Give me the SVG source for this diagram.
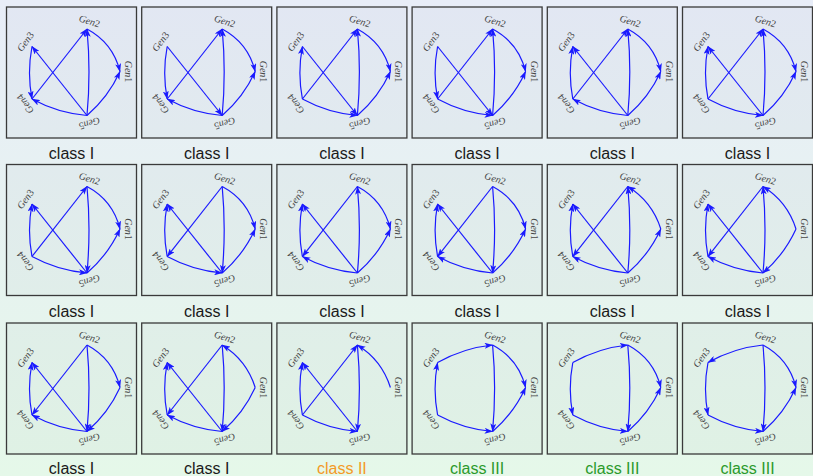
<svg xmlns="http://www.w3.org/2000/svg" width="813" height="476" viewBox="0 0 813 476">
<defs>
<linearGradient id="bg" x1="0" y1="0" x2="0" y2="1">
<stop offset="0" stop-color="#e8edf8"/>
<stop offset="1" stop-color="#e5f8e9"/>
</linearGradient>
<marker id="ah" viewBox="0 0 8.5 6" refX="8" refY="3" markerWidth="8.5" markerHeight="6" markerUnits="userSpaceOnUse" orient="auto">
<path d="M0,0 L8.5,3 L0,6 L2,3 z" fill="#1a1aff"/>
</marker>
</defs>
<style>
.frame{fill:#000030;fill-opacity:0.025;stroke:#3a3a3a;stroke-width:1.3}
.e{fill:none;stroke:#1a1aff;stroke-width:1.2;marker-end:url(#ah)}
.lbl{font-family:"Liberation Serif",serif;font-style:italic;font-size:10px;fill:#454545;text-anchor:middle}
.num{font-style:normal}
.cls{font-family:"Liberation Sans",Arial,sans-serif;font-size:16px;text-anchor:middle;fill:#1a1a1a}
.c2{fill:#f39a26}
.c3{fill:#2b9a2b}
</style>
<rect width="813" height="476" fill="url(#bg)"/>

<g id="panel1" transform="translate(6.5,7)">
<rect class="frame" width="130" height="131"/>
<g id="p1-edges">
<path class="e" d="M80.5,22 Q106.5,35.9 113.5,64.5"/>
<path class="e" d="M80.5,108.5 Q101.8,90.1 113.5,64.5"/>
<path class="e" d="M80.5,108.5 Q84.5,65.25 80.5,22"/>
<path class="e" d="M25.5,92 L80.5,22"/>
<path class="e" d="M80.5,108.5 L25.5,39.5"/>
<path class="e" d="M25.5,39.5 Q20.5,65.75 25.5,92"/>
<path class="e" d="M80.5,108.5 Q51.3,106 25.5,92"/>
</g>
<g id="p1-gen1"><text class="lbl" transform="translate(118.5,64.5) rotate(90)">Gen<tspan class="num">1</tspan></text></g>
<g id="p1-gen2"><text class="lbl" transform="translate(82,17.3) rotate(18)">Gen<tspan class="num">2</tspan></text></g>
<g id="p1-gen3"><text class="lbl" transform="translate(21.5,36.6) rotate(-54)">Gen<tspan class="num">3</tspan></text></g>
<g id="p1-gen4"><text class="lbl" transform="translate(21.5,94.9) rotate(-126)">Gen<tspan class="num">4</tspan></text></g>
<g id="p1-gen5"><text class="lbl" transform="translate(82,113.3) rotate(162)">Gen<tspan class="num">5</tspan></text></g>
<text class="cls" x="65" y="152">class I</text>
</g>

<g id="panel2" transform="translate(141.7,7)">
<rect class="frame" width="130" height="131"/>
<g id="p2-edges">
<path class="e" d="M80.5,22 Q106.5,35.9 113.5,64.5"/>
<path class="e" d="M80.5,108.5 Q101.8,90.1 113.5,64.5"/>
<path class="e" d="M80.5,108.5 Q84.5,65.25 80.5,22"/>
<path class="e" d="M25.5,92 L80.5,22"/>
<path class="e" d="M25.5,39.5 L80.5,108.5"/>
<path class="e" d="M25.5,39.5 Q20.5,65.75 25.5,92"/>
<path class="e" d="M80.5,108.5 Q51.3,106 25.5,92"/>
</g>
<g id="p2-gen1"><text class="lbl" transform="translate(118.5,64.5) rotate(90)">Gen<tspan class="num">1</tspan></text></g>
<g id="p2-gen2"><text class="lbl" transform="translate(82,17.3) rotate(18)">Gen<tspan class="num">2</tspan></text></g>
<g id="p2-gen3"><text class="lbl" transform="translate(21.5,36.6) rotate(-54)">Gen<tspan class="num">3</tspan></text></g>
<g id="p2-gen4"><text class="lbl" transform="translate(21.5,94.9) rotate(-126)">Gen<tspan class="num">4</tspan></text></g>
<g id="p2-gen5"><text class="lbl" transform="translate(82,113.3) rotate(162)">Gen<tspan class="num">5</tspan></text></g>
<text class="cls" x="65" y="152">class I</text>
</g>

<g id="panel3" transform="translate(276.9,7)">
<rect class="frame" width="130" height="131"/>
<g id="p3-edges">
<path class="e" d="M80.5,22 Q106.5,35.9 113.5,64.5"/>
<path class="e" d="M80.5,108.5 Q101.8,90.1 113.5,64.5"/>
<path class="e" d="M80.5,108.5 Q84.5,65.25 80.5,22"/>
<path class="e" d="M25.5,92 L80.5,22"/>
<path class="e" d="M25.5,39.5 L80.5,108.5"/>
<path class="e" d="M25.5,92 Q20.5,65.75 25.5,39.5"/>
<path class="e" d="M25.5,92 Q51.3,106 80.5,108.5"/>
</g>
<g id="p3-gen1"><text class="lbl" transform="translate(118.5,64.5) rotate(90)">Gen<tspan class="num">1</tspan></text></g>
<g id="p3-gen2"><text class="lbl" transform="translate(82,17.3) rotate(18)">Gen<tspan class="num">2</tspan></text></g>
<g id="p3-gen3"><text class="lbl" transform="translate(21.5,36.6) rotate(-54)">Gen<tspan class="num">3</tspan></text></g>
<g id="p3-gen4"><text class="lbl" transform="translate(21.5,94.9) rotate(-126)">Gen<tspan class="num">4</tspan></text></g>
<g id="p3-gen5"><text class="lbl" transform="translate(82,113.3) rotate(162)">Gen<tspan class="num">5</tspan></text></g>
<text class="cls" x="65" y="152">class I</text>
</g>

<g id="panel4" transform="translate(412.1,7)">
<rect class="frame" width="130" height="131"/>
<g id="p4-edges">
<path class="e" d="M80.5,22 Q106.5,35.9 113.5,64.5"/>
<path class="e" d="M80.5,108.5 Q101.8,90.1 113.5,64.5"/>
<path class="e" d="M80.5,108.5 Q84.5,65.25 80.5,22"/>
<path class="e" d="M25.5,92 L80.5,22"/>
<path class="e" d="M25.5,39.5 L80.5,108.5"/>
<path class="e" d="M25.5,39.5 Q20.5,65.75 25.5,92"/>
<path class="e" d="M25.5,92 Q51.3,106 80.5,108.5"/>
</g>
<g id="p4-gen1"><text class="lbl" transform="translate(118.5,64.5) rotate(90)">Gen<tspan class="num">1</tspan></text></g>
<g id="p4-gen2"><text class="lbl" transform="translate(82,17.3) rotate(18)">Gen<tspan class="num">2</tspan></text></g>
<g id="p4-gen3"><text class="lbl" transform="translate(21.5,36.6) rotate(-54)">Gen<tspan class="num">3</tspan></text></g>
<g id="p4-gen4"><text class="lbl" transform="translate(21.5,94.9) rotate(-126)">Gen<tspan class="num">4</tspan></text></g>
<g id="p4-gen5"><text class="lbl" transform="translate(82,113.3) rotate(162)">Gen<tspan class="num">5</tspan></text></g>
<text class="cls" x="65" y="152">class I</text>
</g>

<g id="panel5" transform="translate(547.3,7)">
<rect class="frame" width="130" height="131"/>
<g id="p5-edges">
<path class="e" d="M80.5,22 Q106.5,35.9 113.5,64.5"/>
<path class="e" d="M80.5,108.5 Q101.8,90.1 113.5,64.5"/>
<path class="e" d="M80.5,108.5 Q84.5,65.25 80.5,22"/>
<path class="e" d="M25.5,92 L80.5,22"/>
<path class="e" d="M80.5,108.5 L25.5,39.5"/>
<path class="e" d="M25.5,92 Q20.5,65.75 25.5,39.5"/>
<path class="e" d="M80.5,108.5 Q51.3,106 25.5,92"/>
</g>
<g id="p5-gen1"><text class="lbl" transform="translate(118.5,64.5) rotate(90)">Gen<tspan class="num">1</tspan></text></g>
<g id="p5-gen2"><text class="lbl" transform="translate(82,17.3) rotate(18)">Gen<tspan class="num">2</tspan></text></g>
<g id="p5-gen3"><text class="lbl" transform="translate(21.5,36.6) rotate(-54)">Gen<tspan class="num">3</tspan></text></g>
<g id="p5-gen4"><text class="lbl" transform="translate(21.5,94.9) rotate(-126)">Gen<tspan class="num">4</tspan></text></g>
<g id="p5-gen5"><text class="lbl" transform="translate(82,113.3) rotate(162)">Gen<tspan class="num">5</tspan></text></g>
<text class="cls" x="65" y="152">class I</text>
</g>

<g id="panel6" transform="translate(682.5,7)">
<rect class="frame" width="130" height="131"/>
<g id="p6-edges">
<path class="e" d="M80.5,22 Q106.5,35.9 113.5,64.5"/>
<path class="e" d="M80.5,108.5 Q101.8,90.1 113.5,64.5"/>
<path class="e" d="M80.5,108.5 Q84.5,65.25 80.5,22"/>
<path class="e" d="M25.5,92 L80.5,22"/>
<path class="e" d="M80.5,108.5 L25.5,39.5"/>
<path class="e" d="M25.5,92 Q20.5,65.75 25.5,39.5"/>
<path class="e" d="M25.5,92 Q51.3,106 80.5,108.5"/>
</g>
<g id="p6-gen1"><text class="lbl" transform="translate(118.5,64.5) rotate(90)">Gen<tspan class="num">1</tspan></text></g>
<g id="p6-gen2"><text class="lbl" transform="translate(82,17.3) rotate(18)">Gen<tspan class="num">2</tspan></text></g>
<g id="p6-gen3"><text class="lbl" transform="translate(21.5,36.6) rotate(-54)">Gen<tspan class="num">3</tspan></text></g>
<g id="p6-gen4"><text class="lbl" transform="translate(21.5,94.9) rotate(-126)">Gen<tspan class="num">4</tspan></text></g>
<g id="p6-gen5"><text class="lbl" transform="translate(82,113.3) rotate(162)">Gen<tspan class="num">5</tspan></text></g>
<text class="cls" x="65" y="152">class I</text>
</g>

<g id="panel7" transform="translate(6.5,164.5)">
<rect class="frame" width="130" height="131"/>
<g id="p7-edges">
<path class="e" d="M80.5,22 Q106.5,35.9 113.5,64.5"/>
<path class="e" d="M80.5,108.5 Q101.8,90.1 113.5,64.5"/>
<path class="e" d="M80.5,22 Q84.5,65.25 80.5,108.5"/>
<path class="e" d="M25.5,92 L80.5,22"/>
<path class="e" d="M80.5,108.5 L25.5,39.5"/>
<path class="e" d="M25.5,92 Q20.5,65.75 25.5,39.5"/>
<path class="e" d="M25.5,92 Q51.3,106 80.5,108.5"/>
</g>
<g id="p7-gen1"><text class="lbl" transform="translate(118.5,64.5) rotate(90)">Gen<tspan class="num">1</tspan></text></g>
<g id="p7-gen2"><text class="lbl" transform="translate(82,17.3) rotate(18)">Gen<tspan class="num">2</tspan></text></g>
<g id="p7-gen3"><text class="lbl" transform="translate(21.5,36.6) rotate(-54)">Gen<tspan class="num">3</tspan></text></g>
<g id="p7-gen4"><text class="lbl" transform="translate(21.5,94.9) rotate(-126)">Gen<tspan class="num">4</tspan></text></g>
<g id="p7-gen5"><text class="lbl" transform="translate(82,113.3) rotate(162)">Gen<tspan class="num">5</tspan></text></g>
<text class="cls" x="65" y="152.5">class I</text>
</g>

<g id="panel8" transform="translate(141.7,164.5)">
<rect class="frame" width="130" height="131"/>
<g id="p8-edges">
<path class="e" d="M80.5,22 Q106.5,35.9 113.5,64.5"/>
<path class="e" d="M80.5,108.5 Q101.8,90.1 113.5,64.5"/>
<path class="e" d="M80.5,22 Q84.5,65.25 80.5,108.5"/>
<path class="e" d="M80.5,22 L25.5,92"/>
<path class="e" d="M80.5,108.5 L25.5,39.5"/>
<path class="e" d="M25.5,92 Q20.5,65.75 25.5,39.5"/>
<path class="e" d="M25.5,92 Q51.3,106 80.5,108.5"/>
</g>
<g id="p8-gen1"><text class="lbl" transform="translate(118.5,64.5) rotate(90)">Gen<tspan class="num">1</tspan></text></g>
<g id="p8-gen2"><text class="lbl" transform="translate(82,17.3) rotate(18)">Gen<tspan class="num">2</tspan></text></g>
<g id="p8-gen3"><text class="lbl" transform="translate(21.5,36.6) rotate(-54)">Gen<tspan class="num">3</tspan></text></g>
<g id="p8-gen4"><text class="lbl" transform="translate(21.5,94.9) rotate(-126)">Gen<tspan class="num">4</tspan></text></g>
<g id="p8-gen5"><text class="lbl" transform="translate(82,113.3) rotate(162)">Gen<tspan class="num">5</tspan></text></g>
<text class="cls" x="65" y="152.5">class I</text>
</g>

<g id="panel9" transform="translate(276.9,164.5)">
<rect class="frame" width="130" height="131"/>
<g id="p9-edges">
<path class="e" d="M80.5,22 Q106.5,35.9 113.5,64.5"/>
<path class="e" d="M80.5,108.5 Q101.8,90.1 113.5,64.5"/>
<path class="e" d="M80.5,108.5 Q84.5,65.25 80.5,22"/>
<path class="e" d="M80.5,22 L25.5,92"/>
<path class="e" d="M80.5,108.5 L25.5,39.5"/>
<path class="e" d="M25.5,92 Q20.5,65.75 25.5,39.5"/>
<path class="e" d="M80.5,108.5 Q51.3,106 25.5,92"/>
</g>
<g id="p9-gen1"><text class="lbl" transform="translate(118.5,64.5) rotate(90)">Gen<tspan class="num">1</tspan></text></g>
<g id="p9-gen2"><text class="lbl" transform="translate(82,17.3) rotate(18)">Gen<tspan class="num">2</tspan></text></g>
<g id="p9-gen3"><text class="lbl" transform="translate(21.5,36.6) rotate(-54)">Gen<tspan class="num">3</tspan></text></g>
<g id="p9-gen4"><text class="lbl" transform="translate(21.5,94.9) rotate(-126)">Gen<tspan class="num">4</tspan></text></g>
<g id="p9-gen5"><text class="lbl" transform="translate(82,113.3) rotate(162)">Gen<tspan class="num">5</tspan></text></g>
<text class="cls" x="65" y="152.5">class I</text>
</g>

<g id="panel10" transform="translate(412.1,164.5)">
<rect class="frame" width="130" height="131"/>
<g id="p10-edges">
<path class="e" d="M80.5,22 Q106.5,35.9 113.5,64.5"/>
<path class="e" d="M80.5,108.5 Q101.8,90.1 113.5,64.5"/>
<path class="e" d="M80.5,22 Q84.5,65.25 80.5,108.5"/>
<path class="e" d="M80.5,22 L25.5,92"/>
<path class="e" d="M80.5,108.5 L25.5,39.5"/>
<path class="e" d="M25.5,92 Q20.5,65.75 25.5,39.5"/>
<path class="e" d="M80.5,108.5 Q51.3,106 25.5,92"/>
</g>
<g id="p10-gen1"><text class="lbl" transform="translate(118.5,64.5) rotate(90)">Gen<tspan class="num">1</tspan></text></g>
<g id="p10-gen2"><text class="lbl" transform="translate(82,17.3) rotate(18)">Gen<tspan class="num">2</tspan></text></g>
<g id="p10-gen3"><text class="lbl" transform="translate(21.5,36.6) rotate(-54)">Gen<tspan class="num">3</tspan></text></g>
<g id="p10-gen4"><text class="lbl" transform="translate(21.5,94.9) rotate(-126)">Gen<tspan class="num">4</tspan></text></g>
<g id="p10-gen5"><text class="lbl" transform="translate(82,113.3) rotate(162)">Gen<tspan class="num">5</tspan></text></g>
<text class="cls" x="65" y="152.5">class I</text>
</g>

<g id="panel11" transform="translate(547.3,164.5)">
<rect class="frame" width="130" height="131"/>
<g id="p11-edges">
<path class="e" d="M113.5,64.5 Q104.9,37.1 80.5,22"/>
<path class="e" d="M80.5,108.5 Q101.8,90.1 113.5,64.5"/>
<path class="e" d="M80.5,108.5 Q84.5,65.25 80.5,22"/>
<path class="e" d="M80.5,22 L25.5,92"/>
<path class="e" d="M80.5,108.5 L25.5,39.5"/>
<path class="e" d="M25.5,92 Q20.5,65.75 25.5,39.5"/>
<path class="e" d="M80.5,108.5 Q51.3,106 25.5,92"/>
</g>
<g id="p11-gen1"><text class="lbl" transform="translate(118.5,64.5) rotate(90)">Gen<tspan class="num">1</tspan></text></g>
<g id="p11-gen2"><text class="lbl" transform="translate(82,17.3) rotate(18)">Gen<tspan class="num">2</tspan></text></g>
<g id="p11-gen3"><text class="lbl" transform="translate(21.5,36.6) rotate(-54)">Gen<tspan class="num">3</tspan></text></g>
<g id="p11-gen4"><text class="lbl" transform="translate(21.5,94.9) rotate(-126)">Gen<tspan class="num">4</tspan></text></g>
<g id="p11-gen5"><text class="lbl" transform="translate(82,113.3) rotate(162)">Gen<tspan class="num">5</tspan></text></g>
<text class="cls" x="65" y="152.5">class I</text>
</g>

<g id="panel12" transform="translate(682.5,164.5)">
<rect class="frame" width="130" height="131"/>
<g id="p12-edges">
<path class="e" d="M113.5,64.5 Q104.9,37.1 80.5,22"/>
<path class="e" d="M113.5,64.5 Q101.8,90.1 80.5,108.5"/>
<path class="e" d="M80.5,108.5 Q84.5,65.25 80.5,22"/>
<path class="e" d="M80.5,22 L25.5,92"/>
<path class="e" d="M80.5,108.5 L25.5,39.5"/>
<path class="e" d="M25.5,92 Q20.5,65.75 25.5,39.5"/>
<path class="e" d="M80.5,108.5 Q51.3,106 25.5,92"/>
</g>
<g id="p12-gen1"><text class="lbl" transform="translate(118.5,64.5) rotate(90)">Gen<tspan class="num">1</tspan></text></g>
<g id="p12-gen2"><text class="lbl" transform="translate(82,17.3) rotate(18)">Gen<tspan class="num">2</tspan></text></g>
<g id="p12-gen3"><text class="lbl" transform="translate(21.5,36.6) rotate(-54)">Gen<tspan class="num">3</tspan></text></g>
<g id="p12-gen4"><text class="lbl" transform="translate(21.5,94.9) rotate(-126)">Gen<tspan class="num">4</tspan></text></g>
<g id="p12-gen5"><text class="lbl" transform="translate(82,113.3) rotate(162)">Gen<tspan class="num">5</tspan></text></g>
<text class="cls" x="65" y="152.5">class I</text>
</g>

<g id="panel13" transform="translate(6.5,323)">
<rect class="frame" width="130" height="131"/>
<g id="p13-edges">
<path class="e" d="M80.5,22 Q106.5,35.9 113.5,64.5"/>
<path class="e" d="M113.5,64.5 Q101.8,90.1 80.5,108.5"/>
<path class="e" d="M80.5,22 Q84.5,65.25 80.5,108.5"/>
<path class="e" d="M80.5,22 L25.5,92"/>
<path class="e" d="M80.5,108.5 L25.5,39.5"/>
<path class="e" d="M25.5,92 Q20.5,65.75 25.5,39.5"/>
<path class="e" d="M80.5,108.5 Q51.3,106 25.5,92"/>
</g>
<g id="p13-gen1"><text class="lbl" transform="translate(118.5,64.5) rotate(90)">Gen<tspan class="num">1</tspan></text></g>
<g id="p13-gen2"><text class="lbl" transform="translate(82,17.3) rotate(18)">Gen<tspan class="num">2</tspan></text></g>
<g id="p13-gen3"><text class="lbl" transform="translate(21.5,36.6) rotate(-54)">Gen<tspan class="num">3</tspan></text></g>
<g id="p13-gen4"><text class="lbl" transform="translate(21.5,94.9) rotate(-126)">Gen<tspan class="num">4</tspan></text></g>
<g id="p13-gen5"><text class="lbl" transform="translate(82,113.3) rotate(162)">Gen<tspan class="num">5</tspan></text></g>
<text class="cls" x="65" y="150.5">class I</text>
</g>

<g id="panel14" transform="translate(141.7,323)">
<rect class="frame" width="130" height="131"/>
<g id="p14-edges">
<path class="e" d="M113.5,64.5 Q104.9,37.1 80.5,22"/>
<path class="e" d="M113.5,64.5 Q101.8,90.1 80.5,108.5"/>
<path class="e" d="M80.5,22 Q84.5,65.25 80.5,108.5"/>
<path class="e" d="M80.5,22 L25.5,92"/>
<path class="e" d="M80.5,108.5 L25.5,39.5"/>
<path class="e" d="M25.5,92 Q20.5,65.75 25.5,39.5"/>
<path class="e" d="M80.5,108.5 Q51.3,106 25.5,92"/>
</g>
<g id="p14-gen1"><text class="lbl" transform="translate(118.5,64.5) rotate(90)">Gen<tspan class="num">1</tspan></text></g>
<g id="p14-gen2"><text class="lbl" transform="translate(82,17.3) rotate(18)">Gen<tspan class="num">2</tspan></text></g>
<g id="p14-gen3"><text class="lbl" transform="translate(21.5,36.6) rotate(-54)">Gen<tspan class="num">3</tspan></text></g>
<g id="p14-gen4"><text class="lbl" transform="translate(21.5,94.9) rotate(-126)">Gen<tspan class="num">4</tspan></text></g>
<g id="p14-gen5"><text class="lbl" transform="translate(82,113.3) rotate(162)">Gen<tspan class="num">5</tspan></text></g>
<text class="cls" x="65" y="150.5">class I</text>
</g>

<g id="panel15" transform="translate(276.9,323)">
<rect class="frame" width="130" height="131"/>
<g id="p15-edges">
<path class="e" d="M113.5,64.5 Q104.9,37.1 80.5,22"/>
<path class="e" d="M80.5,22 Q84.5,65.25 80.5,108.5"/>
<path class="e" d="M25.5,92 L80.5,22"/>
<path class="e" d="M80.5,108.5 L25.5,39.5"/>
<path class="e" d="M25.5,92 Q20.5,65.75 25.5,39.5"/>
<path class="e" d="M25.5,92 Q51.3,106 80.5,108.5"/>
</g>
<g id="p15-gen1"><text class="lbl" transform="translate(118.5,64.5) rotate(90)">Gen<tspan class="num">1</tspan></text></g>
<g id="p15-gen2"><text class="lbl" transform="translate(82,17.3) rotate(18)">Gen<tspan class="num">2</tspan></text></g>
<g id="p15-gen3"><text class="lbl" transform="translate(21.5,36.6) rotate(-54)">Gen<tspan class="num">3</tspan></text></g>
<g id="p15-gen4"><text class="lbl" transform="translate(21.5,94.9) rotate(-126)">Gen<tspan class="num">4</tspan></text></g>
<g id="p15-gen5"><text class="lbl" transform="translate(82,113.3) rotate(162)">Gen<tspan class="num">5</tspan></text></g>
<text class="cls c2" x="65" y="150.5">class II</text>
</g>

<g id="panel16" transform="translate(412.1,323)">
<rect class="frame" width="130" height="131"/>
<g id="p16-edges">
<path class="e" d="M25.5,39.5 Q51.2,25 80.5,22"/>
<path class="e" d="M80.5,22 Q106.5,35.9 113.5,64.5"/>
<path class="e" d="M80.5,108.5 Q101.8,90.1 113.5,64.5"/>
<path class="e" d="M80.5,22 Q84.5,65.25 80.5,108.5"/>
<path class="e" d="M25.5,92 Q51.3,106 80.5,108.5"/>
<path class="e" d="M25.5,92 Q20.5,65.75 25.5,39.5"/>
</g>
<g id="p16-gen1"><text class="lbl" transform="translate(118.5,64.5) rotate(90)">Gen<tspan class="num">1</tspan></text></g>
<g id="p16-gen2"><text class="lbl" transform="translate(82,17.3) rotate(18)">Gen<tspan class="num">2</tspan></text></g>
<g id="p16-gen3"><text class="lbl" transform="translate(21.5,36.6) rotate(-54)">Gen<tspan class="num">3</tspan></text></g>
<g id="p16-gen4"><text class="lbl" transform="translate(21.5,94.9) rotate(-126)">Gen<tspan class="num">4</tspan></text></g>
<g id="p16-gen5"><text class="lbl" transform="translate(82,113.3) rotate(162)">Gen<tspan class="num">5</tspan></text></g>
<text class="cls c3" x="65" y="150.5">class III</text>
</g>

<g id="panel17" transform="translate(547.3,323)">
<rect class="frame" width="130" height="131"/>
<g id="p17-edges">
<path class="e" d="M25.5,39.5 Q51.2,25 80.5,22"/>
<path class="e" d="M80.5,22 Q106.5,35.9 113.5,64.5"/>
<path class="e" d="M80.5,108.5 Q101.8,90.1 113.5,64.5"/>
<path class="e" d="M80.5,22 Q84.5,65.25 80.5,108.5"/>
<path class="e" d="M25.5,92 Q51.3,106 80.5,108.5"/>
<path class="e" d="M25.5,39.5 Q20.5,65.75 25.5,92"/>
</g>
<g id="p17-gen1"><text class="lbl" transform="translate(118.5,64.5) rotate(90)">Gen<tspan class="num">1</tspan></text></g>
<g id="p17-gen2"><text class="lbl" transform="translate(82,17.3) rotate(18)">Gen<tspan class="num">2</tspan></text></g>
<g id="p17-gen3"><text class="lbl" transform="translate(21.5,36.6) rotate(-54)">Gen<tspan class="num">3</tspan></text></g>
<g id="p17-gen4"><text class="lbl" transform="translate(21.5,94.9) rotate(-126)">Gen<tspan class="num">4</tspan></text></g>
<g id="p17-gen5"><text class="lbl" transform="translate(82,113.3) rotate(162)">Gen<tspan class="num">5</tspan></text></g>
<text class="cls c3" x="65" y="150.5">class III</text>
</g>

<g id="panel18" transform="translate(682.5,323)">
<rect class="frame" width="130" height="131"/>
<g id="p18-edges">
<path class="e" d="M80.5,22 Q51.2,25 25.5,39.5"/>
<path class="e" d="M80.5,22 Q106.5,35.9 113.5,64.5"/>
<path class="e" d="M80.5,108.5 Q101.8,90.1 113.5,64.5"/>
<path class="e" d="M80.5,22 Q84.5,65.25 80.5,108.5"/>
<path class="e" d="M25.5,92 Q51.3,106 80.5,108.5"/>
<path class="e" d="M25.5,39.5 Q20.5,65.75 25.5,92"/>
</g>
<g id="p18-gen1"><text class="lbl" transform="translate(118.5,64.5) rotate(90)">Gen<tspan class="num">1</tspan></text></g>
<g id="p18-gen2"><text class="lbl" transform="translate(82,17.3) rotate(18)">Gen<tspan class="num">2</tspan></text></g>
<g id="p18-gen3"><text class="lbl" transform="translate(21.5,36.6) rotate(-54)">Gen<tspan class="num">3</tspan></text></g>
<g id="p18-gen4"><text class="lbl" transform="translate(21.5,94.9) rotate(-126)">Gen<tspan class="num">4</tspan></text></g>
<g id="p18-gen5"><text class="lbl" transform="translate(82,113.3) rotate(162)">Gen<tspan class="num">5</tspan></text></g>
<text class="cls c3" x="65" y="150.5">class III</text>
</g>
</svg>
